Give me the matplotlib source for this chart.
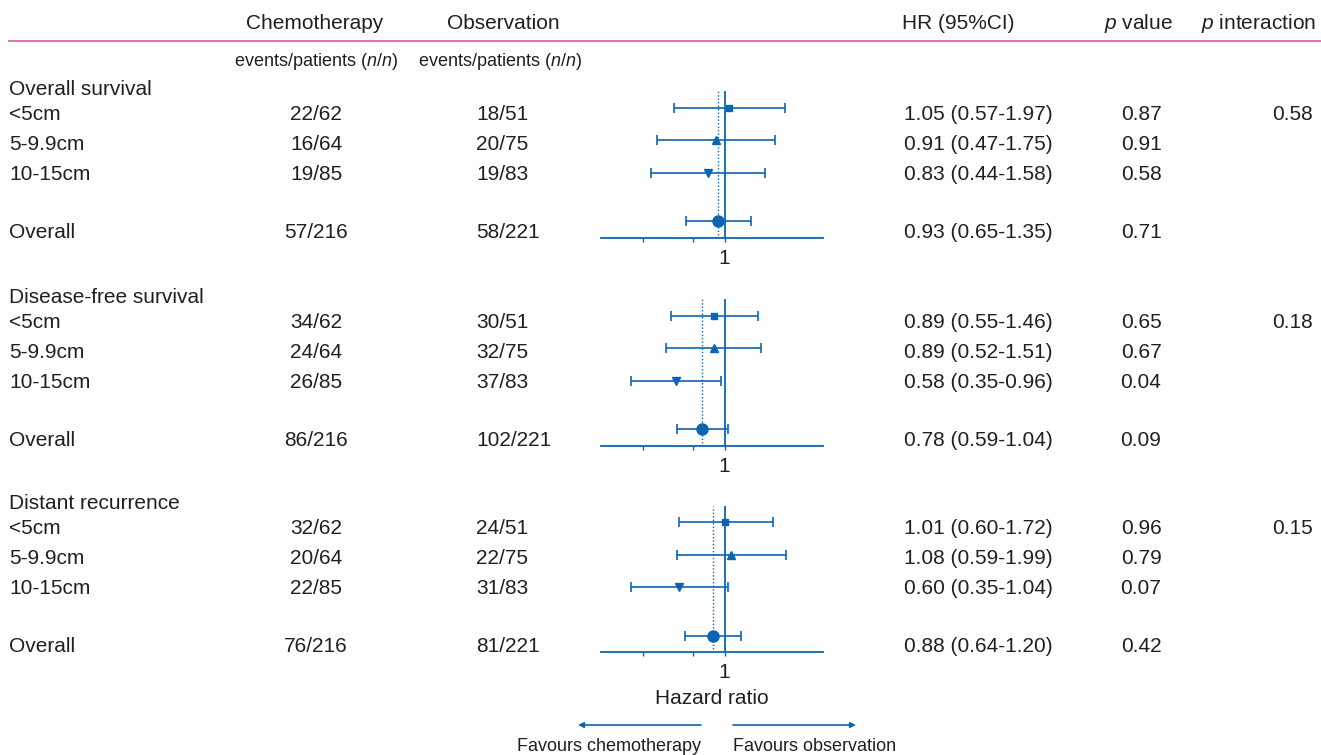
import numpy as np
import matplotlib
matplotlib.use("Agg")
import matplotlib.pyplot as plt

plt.rcParams["font.family"] = ["Liberation Sans", "DejaVu Sans"]
plt.rcParams["mathtext.fontset"] = "custom"
plt.rcParams["mathtext.rm"] = "Liberation Sans"
plt.rcParams["mathtext.it"] = "Liberation Sans:italic"

# ---- data ----
sections = ["Overall survival", "Disease-free survival", "Distant recurrence"]
subgroups = ["<5cm", "5-9.9cm", "10-15cm", "Overall"]

chemo_events = [[22, 16, 19, 57], [34, 24, 26, 86], [32, 20, 22, 76]]
chemo_patients = [62, 64, 85, 216]
obs_events = [[18, 20, 19, 58], [30, 32, 37, 102], [24, 22, 31, 81]]
obs_patients = [51, 75, 83, 221]

hr = [[1.05, 0.91, 0.83, 0.93], [0.89, 0.89, 0.58, 0.78], [1.01, 1.08, 0.60, 0.88]]
hr_lo = [[0.57, 0.47, 0.44, 0.65], [0.55, 0.52, 0.35, 0.59], [0.60, 0.59, 0.35, 0.64]]
hr_hi = [[1.97, 1.75, 1.58, 1.35], [1.46, 1.51, 0.96, 1.04], [1.72, 1.99, 1.04, 1.20]]
p_value = [[0.87, 0.91, 0.58, 0.71], [0.65, 0.67, 0.04, 0.09], [0.96, 0.79, 0.07, 0.42]]
p_interaction = [0.58, 0.18, 0.15]

# ---- style ----
W, H = 1321, 755
BLUE = "#0a66b5"
TXT = "#231f20"
PINK = "#e4589c"
FS = 15
markers = ["s", "^", "v", "o"]
msizes = [5, 5.5, 5.5, 8]
row_y = [0, 1, 2, 3.5]           # forest rows (32.5 px per unit)
axis_px = [237.7, 445.7, 652.0]  # y of the HR axis line for each block
x_left, x_right = 600.7, 822.7

fig = plt.figure(figsize=(W / 100, H / 100), dpi=100)
bg = fig.add_axes([0, 0, 1, 1])
bg.set_xlim(0, W); bg.set_ylim(H, 0); bg.axis("off")

def T(x, y, s, ha="left", fs=FS, **kw):
    bg.text(x, y, s, ha=ha, va="baseline", fontsize=fs, color=TXT, **kw)

# header
T(315, 29, "Chemotherapy", "center")
T(503, 29, "Observation", "center")
T(958, 29, "HR (95%CI)", "center")
T(1138, 29, r"$p$ value", "center")
T(1316, 29, r"$p$ interaction", "right")
bg.plot([8, W], [40.7, 40.7], color=PINK, lw=1.2, solid_capstyle="butt")
T(316, 66, r"events/patients ($n$/$n$)", "center", fs=13)
T(500, 66, r"events/patients ($n$/$n$)", "center", fs=13)

for k, sec in enumerate(sections):
    ya = axis_px[k]
    T(9, ya - 143, sec)
    base = [ya - 118, ya - 88, ya - 58, ya]
    for i, g in enumerate(subgroups):
        b = base[i]
        T(9, b, g)
        T(316, b, f"{chemo_events[k][i]}/{chemo_patients[i]}", "center")
        T(476, b, f"{obs_events[k][i]}/{obs_patients[i]}")
        T(978, b, f"{hr[k][i]:.2f} ({hr_lo[k][i]:.2f}-{hr_hi[k][i]:.2f})", "center")
        T(1141, b, f"{p_value[k][i]:.2f}", "center")
    T(1313, base[0], f"{p_interaction[k]:.2f}", "right")

    # forest panel
    ax = fig.add_axes([x_left / W, 1 - ya / H, (x_right - x_left) / W, 146.25 / H])
    ax.set_xscale("log")
    ax.set_xlim(0.25, 3.0)
    ax.set_ylim(4.0, -0.5)
    ax.patch.set_alpha(0)
    for s in ("left", "top", "right"):
        ax.spines[s].set_visible(False)
    ax.spines["bottom"].set_color(BLUE)
    ax.spines["bottom"].set_linewidth(1.3)
    ax.set_yticks([])
    ax.set_xticks([0.4, 0.7, 1.0])
    ax.set_xticklabels(["", "", "1"])
    ax.minorticks_off()
    ax.tick_params(axis="x", direction="out", length=3, width=1, color=BLUE,
                   labelsize=FS, labelcolor=TXT, pad=5)
    ax.axvline(1.0, color=BLUE, lw=1.3, zorder=2)
    ax.axvline(hr[k][3], ymin=0.02, color=BLUE, lw=1.0, ls=(0, (1, 1.5)), zorder=2)
    h = np.array(hr[k]); lo = np.array(hr_lo[k]); hi = np.array(hr_hi[k])
    ax.errorbar(h, row_y, xerr=[h - lo, hi - h], fmt="none", ecolor=BLUE,
                elinewidth=1.2, capsize=3.5, capthick=1.2, zorder=3)
    for i in range(4):
        ax.plot(h[i], row_y[i], marker=markers[i], ms=msizes[i], color=BLUE,
                mec=BLUE, ls="none", zorder=4)

# footer
T((x_left + x_right) / 2, 704, "Hazard ratio", "center", fs=15)
bg.annotate("", xy=(578, 725), xytext=(701, 725),
            arrowprops=dict(arrowstyle="-|>", color=BLUE, lw=1.2, mutation_scale=8,
                            shrinkA=0, shrinkB=0))
bg.annotate("", xy=(856, 725), xytext=(733, 725),
            arrowprops=dict(arrowstyle="-|>", color=BLUE, lw=1.2, mutation_scale=8,
                            shrinkA=0, shrinkB=0))
T(701, 751, "Favours chemotherapy", "right", fs=13)
T(733, 751, "Favours observation", "left", fs=13)

fig.savefig("out.png", dpi=100, facecolor="white")
